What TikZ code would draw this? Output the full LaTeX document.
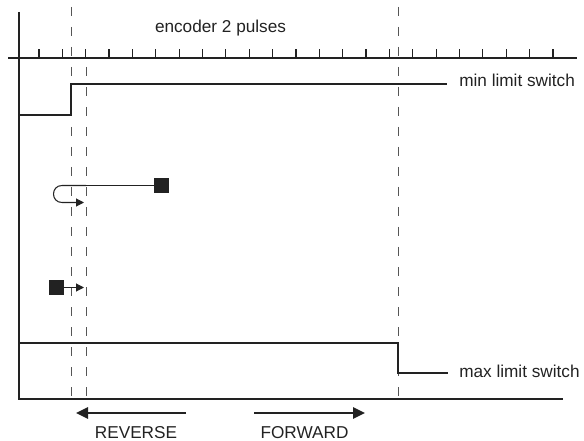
\documentclass[tikz,border=0pt]{standalone}
\usepackage{fontspec}
\setmainfont{Liberation Sans}
\usetikzlibrary{arrows.meta}
\definecolor{ink}{HTML}{222222}
\definecolor{dashink}{HTML}{555555}
\tikzset{
  axisline/.style={line width=1.5pt, draw=ink},
  sigline/.style={line width=1.1pt, draw=ink},
  thinline/.style={line width=0.8pt, draw=ink},
  tickline/.style={line width=0.9pt, draw=ink},
  guide/.style={line width=0.75pt, draw=dashink, dash pattern=on 7pt off 8pt},
  lbl/.style={font=\fontsize{12.9pt}{15pt}\selectfont, text=ink, inner sep=0pt},
  blockbox/.style={fill=ink, draw=none, minimum size=11.25pt, inner sep=0pt},
  bigarrow/.style={line width=1.4pt, draw=ink, -{Triangle[length=9pt,width=8.5pt]}},
  smallarrow/.style={-{Triangle[length=6pt,width=6pt]}}
}
\begin{document}
\begin{tikzpicture}[x=0.75pt,y=-0.75pt]
\useasboundingbox (0,0) rectangle (584,441);
% coordinates
\coordinate (axtop) at (19,12);
\coordinate (axbot) at (19,399);
\coordinate (axend) at (563,399);
\coordinate (encL) at (8,58);
\coordinate (encR) at (577,58);
% dashed guides
\draw[guide] (71,7) -- (71,399);
\draw[guide] (86,67) -- (86,399);
\draw[guide] (398,7) -- (398,399);
% axes
\draw[axisline] (axtop) -- (axbot) -- (axend);
\draw[tickline] (encL) -- (encR);
\foreach \k in {0,...,22} {
  \draw[tickline] ({39+23.36*\k},58) -- ({39+23.36*\k},49);
}
% labels
\node[lbl, anchor=base] (enc) at (220.5,33) {encoder 2 pulses};
\node[lbl, anchor=base west] (minl) at (459,87) {min limit switch};
\node[lbl, anchor=base west] (maxl) at (459,377) {max limit switch};
% min limit switch trace
\coordinate (minend) at (447,84);
\draw[sigline] (19,115) -- (71,115) -- (71,84) -- (minend);
% max limit switch trace
\coordinate (maxend) at (448,373);
\draw[sigline] (19,343) -- (398,343) -- (398,373) -- (maxend);
% upper block with U-turn
\node[blockbox] (sqA) at (161.5,185.5) {};
\coordinate (turnA) at (86,185.5);
\coordinate (tipA) at (84,202.5);
\draw[sigline] (sqA.west) -- (turnA);
\draw[thinline, smallarrow] (turnA) -- (62,185.5) .. controls (50.7,185.5) and (50.7,202.5) .. (62,202.5) -- (tipA);
% lower block
\node[blockbox] (sqB) at (56,287.5) {};
\coordinate (tipB) at (84,287.5);
\draw[thinline, smallarrow] (sqB.east) -- (tipB);
% direction arrows
\coordinate (revS) at (186,413);
\coordinate (revE) at (76,413);
\coordinate (fwdS) at (254,413);
\coordinate (fwdE) at (365,413);
\draw[bigarrow] (revS) -- (revE);
\draw[bigarrow] (fwdS) -- (fwdE);
\node[lbl, anchor=base] (rev) at (136,438) {REVERSE};
\node[lbl, anchor=base] (fwd) at (304.5,438) {FORWARD};
\end{tikzpicture}
\end{document}
